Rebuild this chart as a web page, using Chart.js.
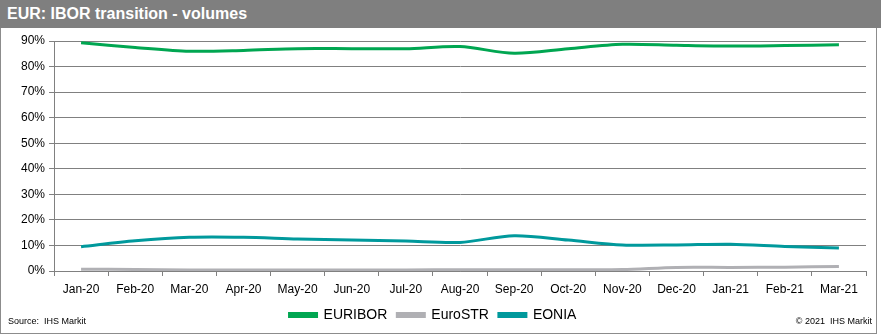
<!DOCTYPE html>
<html>
<head>
<meta charset="utf-8">
<script src="https://cdn.jsdelivr.net/npm/chart.js@4.4.0/dist/chart.umd.min.js"></script>
<style>
  html, body { margin: 0; padding: 0; background: #fff; }
  #wrap { position: relative; width: 881px; height: 335px; overflow: hidden; font-family: "Liberation Sans", Arial, sans-serif; }
  #title { position: absolute; left: 0; top: 0; width: 881px; height: 28px; background: #7f7f7f; color: #fff;
           font-weight: bold; font-size: 16px; line-height: 28px; padding-left: 7px; box-sizing: border-box; }
  #frame { position: absolute; left: 0; top: 28px; width: 877px; height: 306px; border: 1px solid #8c8c8c; border-top: none; box-sizing: border-box; }
  #chartBox { position: absolute; left: 0; top: 28px; width: 881px; height: 307px; }
  .note { position: absolute; top: 316px; font-size: 9px; color: #000; }
  #source { left: 8px; }
  #copy { right: 9px; }
</style>
</head>
<body>
<div id="wrap">
  <div id="title">EUR: IBOR transition - volumes</div>
  <div id="frame"></div>
  <div id="chartBox"><canvas id="chart" width="881" height="307"></canvas></div>
  <div class="note" id="source">Source:&nbsp; IHS Markit</div>
  <div class="note" id="copy">© 2021&nbsp; IHS Markit</div>
</div>
<script>
const months = ['Jan-20', 'Feb-20', 'Mar-20', 'Apr-20', 'May-20', 'Jun-20', 'Jul-20', 'Aug-20',
                'Sep-20', 'Oct-20', 'Nov-20', 'Dec-20', 'Jan-21', 'Feb-21', 'Mar-21'];
const euribor = [89.3, 87.5, 86.0, 86.3, 87.0, 87.0, 87.0, 87.8, 85.2, 87.0, 88.7, 88.3, 88.0, 88.2, 88.5];
const eurostr = [0.7, 0.6, 0.4, 0.4, 0.4, 0.4, 0.4, 0.5, 0.5, 0.5, 0.6, 1.4, 1.4, 1.5, 1.8];
const eonia = [9.5, 11.8, 13.2, 13.2, 12.5, 12.1, 11.7, 11.2, 13.8, 12.1, 10.2, 10.2, 10.5, 9.6, 9.0];
const yTicks = [0, 10, 20, 30, 40, 50, 60, 70, 80, 90];

const ctx = document.getElementById('chart').getContext('2d');
const line = (label, data, color) => ({
    label: label,
    data: data,
    borderColor: color,
    backgroundColor: color,
    borderWidth: 3,
    pointRadius: 0,
    tension: 0.3,
    fill: false
});

new Chart(ctx, {
    type: 'line',
    data: {
        labels: months,
        datasets: [
            line('EURIBOR', euribor, '#00a651'),
            line('EuroSTR', eurostr, '#b0b0b4'),
            line('EONIA', eonia, '#00999c')
        ]
    },
    options: {
        responsive: false,
        animation: false,
        maintainAspectRatio: false,
        layout: {padding: {left: 0, right: 15, top: 13, bottom: 3}},
        plugins: {
            legend: {
                position: 'bottom',
                labels: {
                    boxWidth: 27,
                    boxHeight: 3,
                    padding: 10,
                    color: '#000',
                    font: {family: '"Liberation Sans", Arial, sans-serif', size: 14}
                }
            },
            tooltip: {enabled: false}
        },
        scales: {
            x: {
                offset: true,
                grid: {display: true, drawOnChartArea: false, color: '#808080', tickLength: 5, offset: true},
                border: {color: '#808080'},
                ticks: {color: '#000', maxRotation: 0, autoSkip: false, padding: 6,
                        font: {family: '"Liberation Sans", Arial, sans-serif', size: 12}},
                afterFit: s => { s.height = 27; }
            },
            y: {
                min: 0,
                max: 90,
                afterBuildTicks: s => { s.ticks = yTicks.map(v => ({value: v})); },
                grid: {color: '#808080', tickLength: 5},
                border: {color: '#808080'},
                ticks: {color: '#000', padding: 4, callback: v => v + '%',
                        font: {family: '"Liberation Sans", Arial, sans-serif', size: 12}},
                afterFit: s => { s.width = 54; }
            }
        }
    }
});
</script>
</body>
</html>
